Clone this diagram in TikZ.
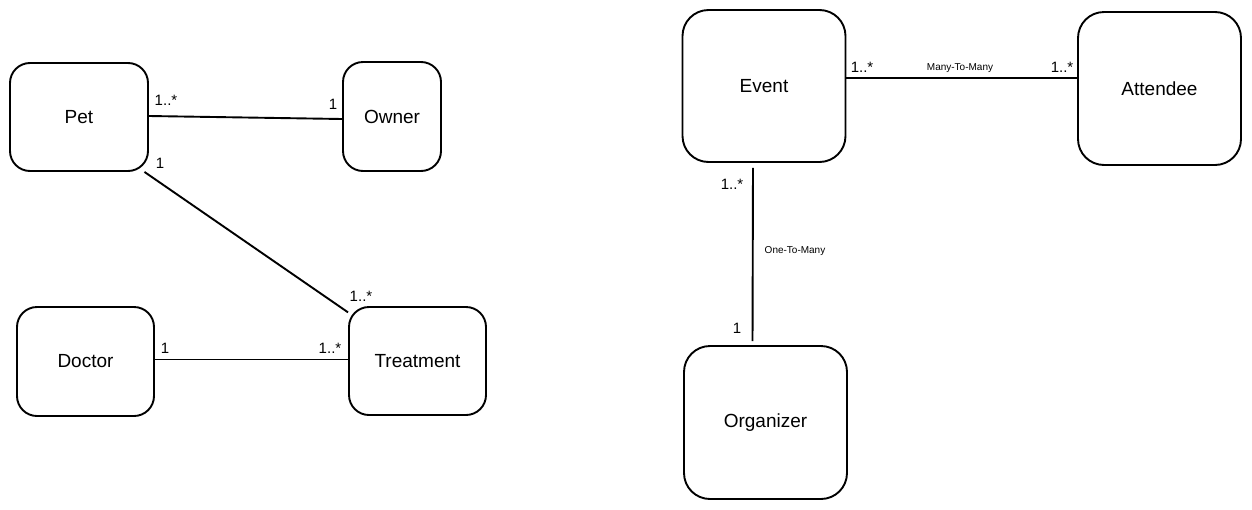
\documentclass[tikz,border=0pt]{standalone}
\usepackage{fontspec}
\setmainfont{Liberation Sans}
\usepackage{tikz}

\tikzset{
	entity/.style={draw, line width=1.9pt, rounded corners=20pt, font=\fontsize{19}{22}\selectfont, inner sep=0pt},
	bigentity/.style={entity, rounded corners=26pt, minimum width=163pt, minimum height=152pt},
	mult/.style={font=\fontsize{15}{17}\selectfont, inner sep=0pt},
	rel/.style={font=\fontsize{10}{12}\selectfont, inner sep=0pt},
	link/.style={line width=1.9pt}
}

\begin{document}
\begin{tikzpicture}[x=1pt,y=-1pt]
		\useasboundingbox (0,0) rectangle (1252,509);

		% pet clinic
		\node[entity, minimum width=138pt, minimum height=108pt] (pet) at ( 79.0,117.0) {Pet};
		\node[entity, minimum width=98pt,  minimum height=109pt] (owner) at (392.0,116.5) {Owner};
		\node[entity, minimum width=137pt, minimum height=109pt] (doctor) at ( 85.5,361.5) {Doctor};
		\node[entity, minimum width=137pt, minimum height=108pt] (treatment) at (417.5,361.0) {Treatment};

		\draw[-,link] ([yshift=1pt]pet.east) to ([yshift=-2.5pt]owner.west);
		\draw[-,link] (pet.-40) to (treatment.145);
		\draw[-,link] ([yshift=2pt]doctor.east) to ([yshift=1.5pt]treatment.west);

		\node[mult] (m1) at (166,100) {1..*};
		\node[mult] (m2) at (333,104) {1};
		\node[mult] (m3) at (160,163) {1};
		\node[mult] (m4) at (361,296) {1..*};
		\node[mult] (m5) at (165,348) {1};
		\node[mult] (m6) at (330,348) {1..*};

		% events
		\node[bigentity] (event) at (764.0, 86.0) {Event};
		\node[bigentity, minimum height=153pt] (attendee) at (1159.5, 88.5) {Attendee};
		\node[bigentity, minimum height=153pt] (organizer) at (765.5,422.5) {Organizer};

		\draw[-,link] ([yshift=8pt]event.east) to ([yshift=10.5pt]attendee.west);
		\draw[-,link,shorten <=5pt,shorten >=4pt] ([xshift=-11pt]event.south) to ([xshift=-13pt]organizer.north);

		\node[mult] (m7) at (862, 67) {1..*};
		\node[mult] (m8) at (1062, 67) {1..*};
		\node[rel]  (r1) at (960, 68) {Many-To-Many};
		\node[mult] (m9) at (732,184) {1..*};
		\node[rel]  (r2) at (795,251) {One-To-Many};
		\node[mult] (m10) at (737,328) {1};

	\end{tikzpicture}
\end{document}
